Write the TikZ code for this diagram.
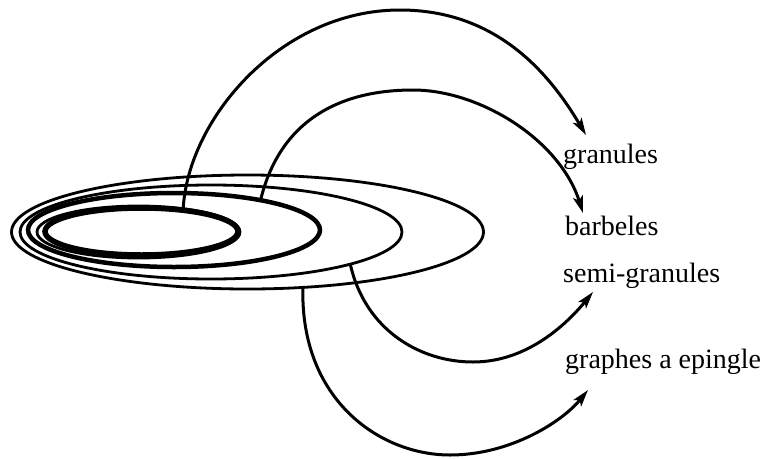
\documentclass[tikz,border=0pt]{standalone}
\usepackage{fontspec}
\setmainfont{Liberation Serif}
\usetikzlibrary{shapes.geometric,arrows.meta}
\tikzset{
  ring/.style={draw, ellipse, inner sep=0pt, outer sep=0pt, line width=#1},
  ring/.default=2.8pt,
  arc/.style={line width=3pt, -{Stealth[length=17pt,width=10pt,inset=4pt]}},
  lab/.style={anchor=base west, inner sep=0pt, font=\fontsize{28}{30}\selectfont}
}
\begin{document}
\begin{tikzpicture}[x=1pt,y=-1pt]
\useasboundingbox (0,0) rectangle (765,458);
% nested ellipses
\node[ring=2.8pt, minimum width=472pt, minimum height=114pt] (E) at (247.5,232) {};
\node[ring=2.8pt, minimum width=382pt, minimum height=94pt] (D) at (211,232) {};
\node[ring=4.5pt, minimum width=292pt, minimum height=74pt] (B) at (174,230) {};
\node[ring=2.8pt, minimum width=203pt, minimum height=52pt] (A2) at (138.5,232) {};
\node[ring=5.5pt, minimum width=193pt, minimum height=47pt] (A) at (141.5,231.5) {};
% labels
\node[lab] (granules) at (563,163) {granules};
\node[lab] (barbeles) at (565,235) {barbeles};
\node[lab] (semi) at (563,282) {semi-granules};
\node[lab] (graphes) at (565,368) {graphes a epingle};
% arrow tips
\coordinate (t1) at (586,135);
\coordinate (t2) at (583,213);
\coordinate (t3) at (593,292);
\coordinate (t4) at (588,390);
% arcs
\draw[arc] (A.27) .. controls (187,120) and (280,10) .. (400,10)
  .. controls (500,10) and (552,78) .. (t1);
\draw[arc] (B.19) .. controls (280,120) and (340,90) .. (413,90)
  .. controls (480,90) and (560,140) .. (t2);
\draw[arc] (D.-13.5) .. controls (365,330) and (420,362) .. (473,362)
  .. controls (530,362) and (570,320) .. (t3);
\draw[arc] (E.-45) .. controls (300,400) and (380,455) .. (450,455)
  .. controls (510,455) and (562,422) .. (t4);
\end{tikzpicture}
\end{document}
